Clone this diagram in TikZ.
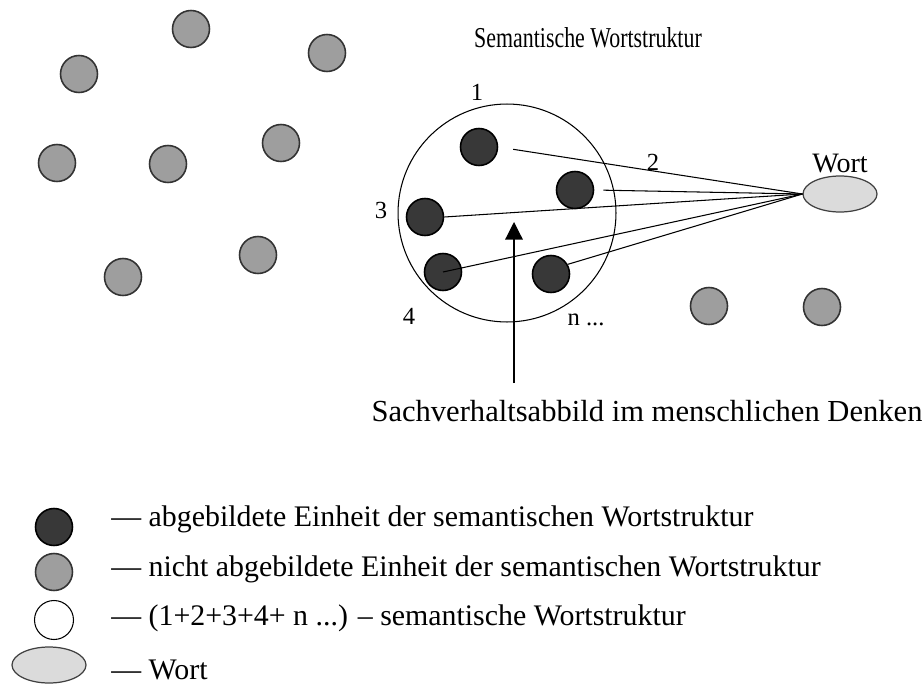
\documentclass[tikz,border=0pt]{standalone}
\usepackage{fontspec}
\setmainfont{Liberation Serif}
\newfontfamily\titelschrift[FakeStretch=0.76]{Liberation Serif}
\usetikzlibrary{arrows.meta,shapes.geometric,positioning}

\begin{document}
\begin{tikzpicture}[
    x=0.02cm, y=-0.02cm,
    einheit/.style={circle, draw=black!80, line width=0.9pt, fill=black!38, minimum size=0.74cm, inner sep=0pt},
    abgebildet/.style={einheit, draw=black, fill=black!78},
    wortell/.style={ellipse, draw=black!75, line width=0.7pt, fill=black!14, minimum width=1.48cm, minimum height=0.72cm, inner sep=0pt},
    linie/.style={line width=0.6pt},
    arr/.style={-{Triangle[length=10pt, width=10pt]}, line width=0.7pt},
    zahl/.style={font=\fontsize{14}{16}\selectfont, inner sep=0pt},
    legtext/.style={anchor=base west, font=\fontsize{17}{20}\selectfont, inner sep=0pt}
]
\useasboundingbox (0,0) rectangle (922,686);

% nicht abgebildete Einheiten
\node[einheit] (g1) at (191,29) {};
\node[einheit] (g2) at (79,74) {};
\node[einheit] (g3) at (327,53) {};
\node[einheit] (g4) at (57,163) {};
\node[einheit] (g5) at (168,164) {};
\node[einheit] (g6) at (281,143) {};
\node[einheit] (g7) at (123,277) {};
\node[einheit] (g8) at (258,255) {};
\node[einheit] (g9) at (709,306) {};
\node[einheit] (g10) at (822,307) {};

% semantische Wortstruktur
\node[font=\titelschrift\fontsize{16.4}{19}\selectfont] (titel) at (588,38) {Semantische Wortstruktur};
\node[circle, draw, linie, minimum size=4.36cm] (struktur) at (507,213) {};
\node[abgebildet] (d1) at (479,147) {};
\node[abgebildet] (d2) at (575,190) {};
\node[abgebildet] (d3) at (425,217) {};
\node[abgebildet] (d4) at (443,272) {};
\node[abgebildet] (d5) at (551,274) {};
\node[zahl] (n1) at (477,92) {1};
\node[zahl] (n2) at (653,162) {2};
\node[zahl] (n3) at (381,210) {3};
\node[zahl] (n4) at (409,316) {4};
\node[zahl] (nn) at (586,320) {n ...};

% Wort
\node[wortell] (wort) at (840,194) {};
\node[font=\fontsize{16}{18}\selectfont, inner sep=0pt] (wortname) at (840,164) {Wort};
\draw[linie, shorten <=0.3cm] (d1.east) -- (wort.west);
\draw[linie, shorten <=0.18cm] (d2.east) -- (wort.west);
\draw[linie] (d3.east) -- (wort.west);
\draw[linie] (d4.center) -- (wort.west);
\draw[linie] (d5.30) -- (wort.west);

% Sachverhaltsabbild
\coordinate (spitze) at (514,222);
\coordinate (fuss) at (514,383);
\draw[arr] (fuss) -- (spitze);
\node[font=\fontsize{17.4}{20}\selectfont, inner sep=0pt] (sachbild) at (647,411) {Sachverhaltsabbild im menschlichen Denken};

% Legende
\node[abgebildet] (l1) at (54,527) {};
\node[einheit] (l2) at (54,572) {};
\node[circle, draw, linie, minimum size=0.78cm, inner sep=0pt] (l3) at (54,620) {};
\node[wortell] (l4) at (49,665) {};
\node[legtext] (t1) at (111,526) {— abgebildete Einheit der semantischen Wortstruktur};
\node[legtext] (t2) at (111,576) {— nicht abgebildete Einheit der semantischen Wortstruktur};
\node[legtext] (t3) at (111,625) {— (1+2+3+4+ n ...) – semantische Wortstruktur};
\node[legtext] (t4) at (111,679) {— Wort};
\end{tikzpicture}
\end{document}
